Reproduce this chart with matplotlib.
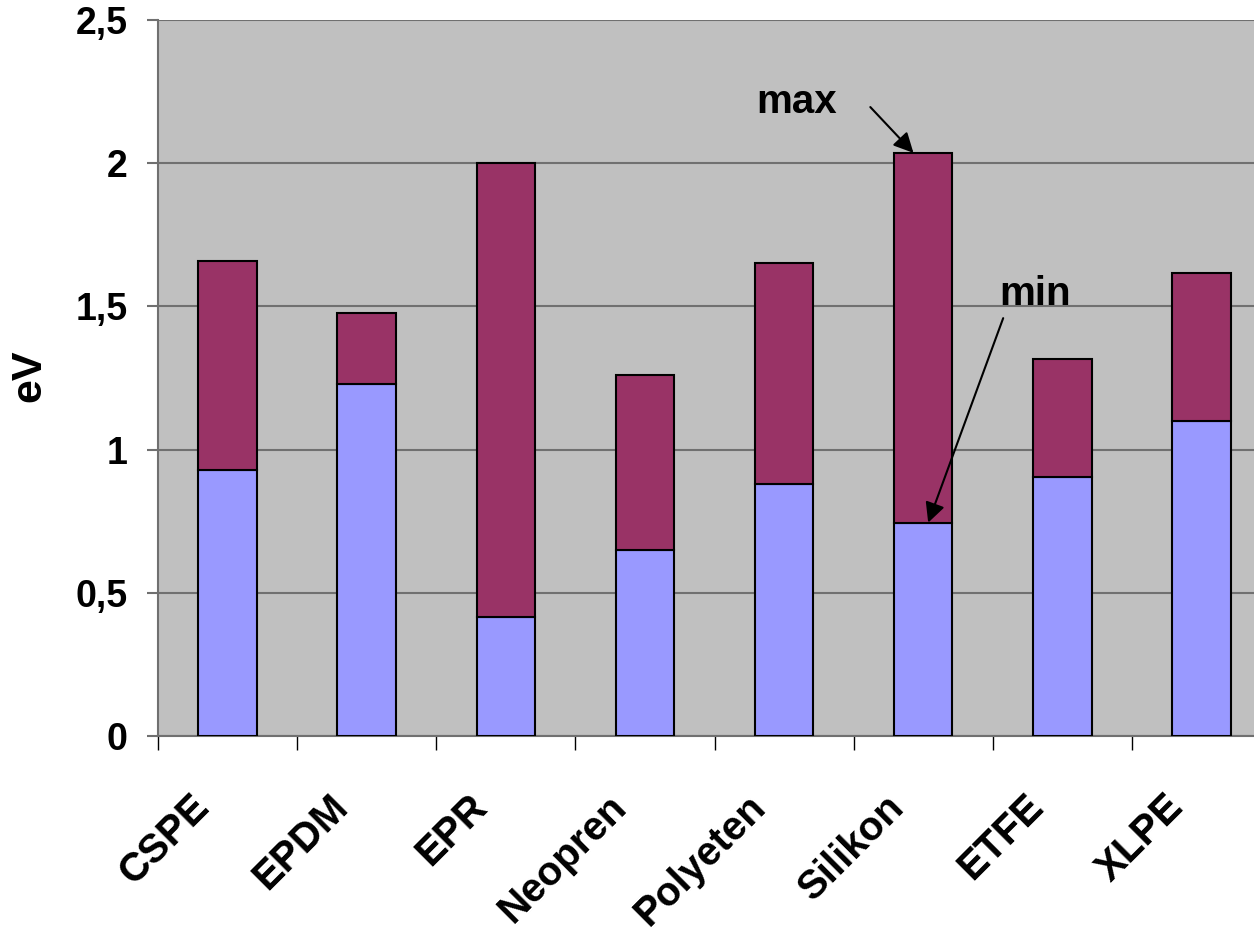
import numpy as np
import matplotlib
matplotlib.use('Agg')
import matplotlib.pyplot as plt
import matplotlib.transforms as mtransforms

plt.rcParams['font.family'] = ['Liberation Sans', 'DejaVu Sans']
plt.rcParams['font.weight'] = 'bold'

materials = ['CSPE', 'EPDM', 'EPR', 'Neopren', 'Polyeten', 'Silikon', 'ETFE', 'XLPE']
ev_min = [0.93, 1.23, 0.415, 0.65, 0.88, 0.745, 0.905, 1.10]
ev_max = [1.66, 1.477, 2.00, 1.26, 1.652, 2.036, 1.318, 1.618]
yticks = [0, 0.5, 1, 1.5, 2, 2.5]
ytick_labels = ['0', '0,5', '1', '1,5', '2', '2,5']

x = np.arange(len(materials))
span = [hi - lo for lo, hi in zip(ev_min, ev_max)]

fig = plt.figure(figsize=(12.54, 9.31), dpi=100)
# plot area runs past the right edge, like the original
ax = fig.add_axes([158/1254, 1 - 736/931, 1113/1254, 716/931])
ax.set_facecolor('#C0C0C0')

ax.bar(x, ev_min, width=0.42, color='#9999FF', edgecolor='black', linewidth=1.5, zorder=3)
ax.bar(x, span, bottom=ev_min, width=0.42, color='#993366', edgecolor='black', linewidth=1.5, zorder=3)

ax.set_xlim(-0.5, len(materials) - 0.5)
ax.set_ylim(0, 2.5)
ax.set_yticks(yticks)
ax.set_yticklabels(ytick_labels, fontsize=27, fontweight='bold')
ax.yaxis.grid(True, color='#707070', linewidth=1.5, zorder=1)
ax.set_axisbelow(True)

# x ticks sit on category boundaries, labels at the centres
ax.set_xticks(np.arange(len(materials) + 1) - 0.5)
ax.set_xticklabels([])
ax.set_xticks(x, minor=True)
ax.set_xticklabels(materials, minor=True, rotation=45, ha='right', va='top',
                   rotation_mode='anchor', fontsize=29, fontweight='bold')
ax.tick_params(axis='x', which='minor', length=0, pad=37)
ax.tick_params(axis='x', which='major', length=10, width=1.0, color='black', direction='out')
ax.tick_params(axis='y', length=8, width=1.5, color='#707070', direction='out', pad=14)

shift = mtransforms.ScaledTranslation(-38/100, 0, fig.dpi_scale_trans)
for lbl in ax.get_xticklabels(minor=True):
    lbl.set_transform(lbl.get_transform() + shift)

for side in ['top', 'right']:
    ax.spines[side].set_visible(False)
ax.spines['left'].set_color('#707070')
ax.spines['left'].set_linewidth(1.5)
ax.spines['bottom'].set_color('#707070')
ax.spines['bottom'].set_linewidth(1.5)

ax.set_ylabel('eV', fontsize=31, fontweight='bold')
ax.yaxis.set_label_coords(-0.098, 0.503)

arrow = dict(arrowstyle='-|>', color='black', lw=1.5, mutation_scale=30, shrinkA=0, shrinkB=0)
ax.text(3.80, 2.175, 'max', fontsize=29, fontweight='bold', ha='left', va='baseline', zorder=5)
ax.annotate('', xy=(4.93, ev_max[5]), xytext=(4.62, 2.196), arrowprops=arrow, zorder=5)
ax.text(5.546, 1.505, 'min', fontsize=29, fontweight='bold', ha='left', va='baseline', zorder=5)
ax.annotate('', xy=(5.036, ev_min[5]), xytext=(5.575, 1.459), arrowprops=arrow, zorder=5)

fig.savefig('out.png', dpi=100)
